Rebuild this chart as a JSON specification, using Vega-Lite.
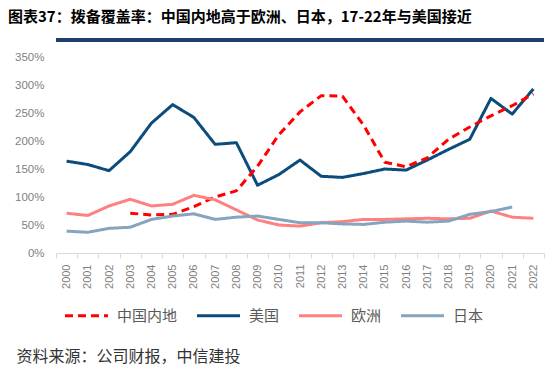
{
  "$schema": "https://vega.github.io/schema/vega-lite/v6.json",
  "width": 488,
  "height": 196,
  "autosize": "none",
  "padding": {"left": 56, "top": 57, "right": 12, "bottom": 115},
  "background": "white",
  "config": {"view": {"stroke": null}, "font": "Liberation Sans"},
  "title": {
    "text": "图表37：拨备覆盖率：中国内地高于欧洲、日本，17-22年与美国接近",
    "anchor": "start",
    "frame": "group",
    "dx": -48,
    "offset": 26,
    "dy": 12,
    "fontSize": 15,
    "fontWeight": "bold",
    "font": "Noto Sans CJK SC",
    "color": "#000000"
  },
  "resolve": {"scale": {"y": "independent"}, "axis": {"y": "independent"}},
  "data": {
    "values": [
      {"year": "2000", "series": "美国", "value": 164},
      {"year": "2001", "series": "美国", "value": 158},
      {"year": "2002", "series": "美国", "value": 147},
      {"year": "2003", "series": "美国", "value": 181},
      {"year": "2004", "series": "美国", "value": 232},
      {"year": "2005", "series": "美国", "value": 265},
      {"year": "2006", "series": "美国", "value": 242},
      {"year": "2007", "series": "美国", "value": 194},
      {"year": "2008", "series": "美国", "value": 197},
      {"year": "2009", "series": "美国", "value": 121},
      {"year": "2010", "series": "美国", "value": 140},
      {"year": "2011", "series": "美国", "value": 166},
      {"year": "2012", "series": "美国", "value": 137},
      {"year": "2013", "series": "美国", "value": 135},
      {"year": "2014", "series": "美国", "value": 142},
      {"year": "2015", "series": "美国", "value": 150},
      {"year": "2016", "series": "美国", "value": 148},
      {"year": "2017", "series": "美国", "value": 166},
      {"year": "2018", "series": "美国", "value": 185},
      {"year": "2019", "series": "美国", "value": 203},
      {"year": "2020", "series": "美国", "value": 276},
      {"year": "2021", "series": "美国", "value": 248},
      {"year": "2022", "series": "美国", "value": 293},
      {"year": "2003", "series": "中国内地", "value": 71},
      {"year": "2004", "series": "中国内地", "value": 68},
      {"year": "2005", "series": "中国内地", "value": 69},
      {"year": "2006", "series": "中国内地", "value": 83},
      {"year": "2007", "series": "中国内地", "value": 100},
      {"year": "2008", "series": "中国内地", "value": 111},
      {"year": "2009", "series": "中国内地", "value": 155},
      {"year": "2010", "series": "中国内地", "value": 211},
      {"year": "2011", "series": "中国内地", "value": 252},
      {"year": "2012", "series": "中国内地", "value": 281},
      {"year": "2013", "series": "中国内地", "value": 280},
      {"year": "2014", "series": "中国内地", "value": 228},
      {"year": "2015", "series": "中国内地", "value": 162},
      {"year": "2016", "series": "中国内地", "value": 154},
      {"year": "2017", "series": "中国内地", "value": 170},
      {"year": "2018", "series": "中国内地", "value": 203},
      {"year": "2019", "series": "中国内地", "value": 225},
      {"year": "2020", "series": "中国内地", "value": 245},
      {"year": "2021", "series": "中国内地", "value": 263},
      {"year": "2022", "series": "中国内地", "value": 284},
      {"year": "2000", "series": "欧洲", "value": 71},
      {"year": "2001", "series": "欧洲", "value": 67},
      {"year": "2002", "series": "欧洲", "value": 84},
      {"year": "2003", "series": "欧洲", "value": 96},
      {"year": "2004", "series": "欧洲", "value": 84},
      {"year": "2005", "series": "欧洲", "value": 87},
      {"year": "2006", "series": "欧洲", "value": 103},
      {"year": "2007", "series": "欧洲", "value": 95},
      {"year": "2008", "series": "欧洲", "value": 77},
      {"year": "2009", "series": "欧洲", "value": 59},
      {"year": "2010", "series": "欧洲", "value": 50},
      {"year": "2011", "series": "欧洲", "value": 48},
      {"year": "2012", "series": "欧洲", "value": 54},
      {"year": "2013", "series": "欧洲", "value": 56},
      {"year": "2014", "series": "欧洲", "value": 60},
      {"year": "2015", "series": "欧洲", "value": 60},
      {"year": "2016", "series": "欧洲", "value": 61},
      {"year": "2017", "series": "欧洲", "value": 62},
      {"year": "2018", "series": "欧洲", "value": 61},
      {"year": "2019", "series": "欧洲", "value": 62},
      {"year": "2020", "series": "欧洲", "value": 75},
      {"year": "2021", "series": "欧洲", "value": 64},
      {"year": "2022", "series": "欧洲", "value": 62},
      {"year": "2000", "series": "日本", "value": 39},
      {"year": "2001", "series": "日本", "value": 37},
      {"year": "2002", "series": "日本", "value": 44},
      {"year": "2003", "series": "日本", "value": 46},
      {"year": "2004", "series": "日本", "value": 60},
      {"year": "2005", "series": "日本", "value": 66},
      {"year": "2006", "series": "日本", "value": 70},
      {"year": "2007", "series": "日本", "value": 60},
      {"year": "2008", "series": "日本", "value": 64},
      {"year": "2009", "series": "日本", "value": 66},
      {"year": "2010", "series": "日本", "value": 60},
      {"year": "2011", "series": "日本", "value": 54},
      {"year": "2012", "series": "日本", "value": 54},
      {"year": "2013", "series": "日本", "value": 52},
      {"year": "2014", "series": "日本", "value": 51},
      {"year": "2015", "series": "日本", "value": 55},
      {"year": "2016", "series": "日本", "value": 57},
      {"year": "2017", "series": "日本", "value": 55},
      {"year": "2018", "series": "日本", "value": 57},
      {"year": "2019", "series": "日本", "value": 69},
      {"year": "2020", "series": "日本", "value": 74},
      {"year": "2021", "series": "日本", "value": 82}
    ]
  },
  "layer": [
    {
      "mark": {"type": "rect", "color": "#1F3F6E", "clip": false},
      "encoding": {
        "y": {"datum": 383, "type": "quantitative", "scale": {"domain": [0, 350], "nice": false, "zero": false}, "axis": null},
        "y2": {"datum": 378}
      }
    },
    {
      "mark": {"type": "line", "strokeWidth": 3, "strokeCap": "butt", "strokeJoin": "round"},
      "encoding": {
        "x": {
          "field": "year",
          "type": "ordinal",
          "bandPosition": 0.5,
          "scale": {"type": "band", "paddingInner": 0, "paddingOuter": 0},
          "axis": {
            "title": "资料来源：公司财报，中信建投",
            "titleFont": "Noto Sans CJK SC",
            "titleFontSize": 16,
            "titleFontWeight": "normal",
            "titleColor": "#333333",
            "titleAnchor": "start",
            "titleAlign": "left",
            "titleBaseline": "alphabetic",
            "titleX": -40,
            "titleY": 108,
            "labelAngle": -90,
            "labelAlign": "right",
            "labelBaseline": "middle",
            "labelPadding": 6,
            "labelFontSize": 11,
            "labelColor": "#7F7F7F",
            "domainColor": "#D9D9D9",
            "tickColor": "#D9D9D9",
            "tickSize": 5,
            "tickBand": "extent",
            "grid": false
          }
        },
        "y": {
          "field": "value",
          "type": "quantitative",
          "scale": {"domain": [0, 350]},
          "axis": {
            "title": null,
            "values": [0, 50, 100, 150, 200, 250, 300, 350],
            "labelExpr": "datum.value + '%'",
            "labelOverlap": false,
            "labelFontSize": 11.5,
            "labelColor": "#7F7F7F",
            "labelPadding": 12,
            "domain": false,
            "ticks": false,
            "grid": false
          }
        },
        "color": {
          "field": "series",
          "type": "nominal",
          "scale": {
            "domain": ["中国内地", "美国", "欧洲", "日本"],
            "range": ["#FF0000", "#0C4C7C", "#FF8080", "#86A4BE"]
          },
          "legend": {
            "title": null,
            "orient": "none",
            "direction": "horizontal",
            "legendX": 7,
            "legendY": 235,
            "symbolType": "stroke",
            "symbolSize": 1850,
            "symbolStrokeWidth": 3,
            "labelFont": "Noto Sans CJK SC",
            "labelFontSize": 15,
            "labelColor": "#595959",
            "labelOffset": 7,
            "columnPadding": 12
          }
        },
        "strokeDash": {
          "field": "series",
          "type": "nominal",
          "scale": {
            "domain": ["中国内地", "美国", "欧洲", "日本"],
            "range": [[8, 5], [1, 0], [1, 0], [1, 0]]
          },
          "legend": {
            "title": null,
            "orient": "none",
            "direction": "horizontal",
            "legendX": 7,
            "legendY": 235,
            "symbolType": "stroke",
            "symbolSize": 1850,
            "symbolStrokeWidth": 3,
            "labelFont": "Noto Sans CJK SC",
            "labelFontSize": 15,
            "labelColor": "#595959",
            "labelOffset": 7,
            "columnPadding": 12
          }
        }
      }
    }
  ]
}
